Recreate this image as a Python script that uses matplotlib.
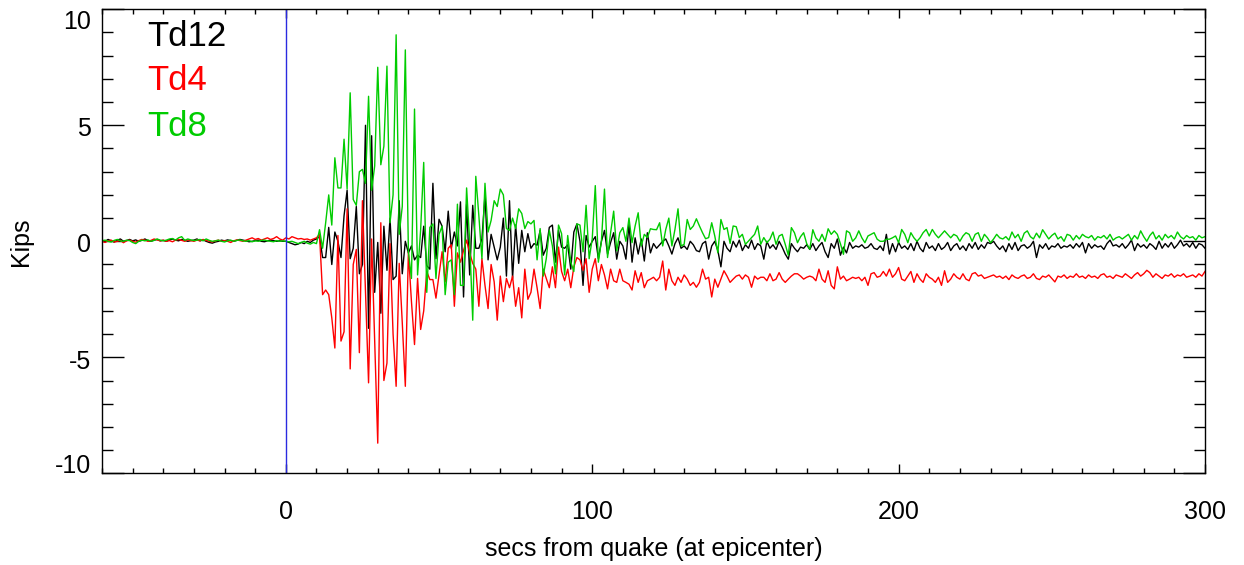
import matplotlib
matplotlib.use("Agg")
import matplotlib.pyplot as plt
import matplotlib.transforms as mtransforms
from matplotlib.ticker import MultipleLocator

plt.rcParams['font.family'] = ['Liberation Sans', 'DejaVu Sans']

secs = list(range(-60, 301))

td12 = [
    0.05,0.0,0.08,0.02,-0.03,0.05,0.1,0.0,0.03,0.08,
    0.02,0.06,0.0,0.04,0.1,0.03,0.0,0.05,0.08,0.02,
    0.04,0.0,0.06,0.1,0.05,0.02,0.08,0.04,0.0,0.03,
    0.05,0.1,0.02,0.06,0.0,-0.05,-0.08,-0.03,0.0,0.05,
    0.02,0.06,0.03,0.0,0.04,0.08,0.05,0.02,-0.02,0.0,
    0.03,0.05,0.0,-0.02,0.02,0.05,0.03,0.0,0.02,0.0,
    0.0,-0.05,-0.1,-0.15,-0.12,-0.05,-0.1,0.0,-0.05,0.05,
    0.1,0.2,-0.7,-0.7,0.6,-1.0,0.4,0.0,-0.7,1.1,
    2.2,-0.75,-0.3,1.5,-1.4,-1.0,5.0,-3.75,4.55,-2.2,
    -0.05,-3.1,0.65,-1.25,1.0,-1.65,-1.5,1.75,-1.4,0.0,
    -0.5,-0.2,-0.8,-0.6,-0.7,0.65,-1.05,-1.2,2.5,-0.75,
    0.95,0.65,-0.45,1.3,-0.3,0.4,-0.2,1.7,-2.4,1.6,
    -1.45,1.55,-0.3,-0.3,0.1,2.0,-0.8,0.3,-0.25,-0.8,
    -0.25,1.0,-1.5,1.75,-1.6,0.7,-0.95,0.47,-0.45,0.33,
    -0.3,-0.1,-0.17,0.47,-0.6,-0.3,0.6,0.7,-0.9,0.47,
    -0.25,-0.3,-0.15,-1.2,0.4,0.75,0.0,-1.9,0.25,-0.25,
    0.0,0.2,-0.75,0.0,0.47,-0.55,-0.05,0.37,-0.77,0.0,
    -0.2,-0.77,0.73,-0.9,0.15,-0.55,0.1,-0.85,0.37,-0.5,
    -0.1,-0.3,-0.15,0.0,0.1,-0.2,-0.55,-0.1,0.15,-0.3,
    -0.2,-0.35,0.0,-0.15,-0.4,-0.45,-0.1,0.0,-0.77,-0.2,
    0.0,-0.4,-1.1,0.0,-0.3,-0.45,0.0,-0.25,0.05,-0.4,
    -0.15,-0.3,0.05,-0.35,-0.1,-0.2,-0.77,0.0,-0.3,-0.15,
    -0.35,0.0,-0.25,-0.55,-0.77,-0.1,-0.3,-0.45,-0.25,-0.3,
    -0.15,-0.35,-0.1,-0.4,-0.2,-0.05,-0.45,-0.7,-0.1,-0.3,
    0.1,-0.6,-0.25,-0.5,-0.05,-0.3,-0.2,-0.25,-0.15,-0.3,
    -0.25,-0.1,-0.3,-0.35,-0.2,-0.4,0.3,-0.55,-0.1,-0.45,
    -0.05,-0.3,-0.2,-0.35,-0.1,-0.4,0.0,-0.3,-0.45,-0.05,
    -0.3,-0.2,-0.4,-0.1,-0.35,-0.25,-0.05,-0.4,-0.2,-0.1,
    -0.35,-0.2,-0.4,-0.1,-0.3,-0.05,-0.35,-0.15,-0.3,-0.05,
    -0.1,0.0,-0.2,-0.35,-0.2,-0.45,-0.1,-0.35,-0.05,-0.4,
    -0.2,-0.15,-0.3,-0.2,0.0,-0.7,-0.15,-0.3,-0.1,-0.35,
    -0.2,-0.25,-0.1,-0.3,-0.2,-0.25,-0.15,-0.3,-0.1,-0.25,
    -0.05,-0.5,-0.1,-0.3,-0.15,-0.25,-0.2,-0.35,-0.1,0.05,
    -0.2,-0.15,-0.25,-0.1,-0.3,-0.15,0.05,-0.4,-0.1,-0.25,
    -0.15,-0.3,-0.1,-0.2,-0.35,0.0,-0.3,-0.1,-0.25,-0.05,
    -0.3,-0.15,0.05,-0.2,-0.1,-0.25,-0.05,-0.3,-0.1,-0.15,
    -0.3,
]

td4 = [
    0.0,-0.05,0.02,0.05,-0.03,0.0,0.04,-0.06,0.02,0.05,
    0.0,-0.04,0.03,0.08,0.05,0.0,0.04,0.1,0.06,0.02,
    0.05,0.0,0.03,-0.02,0.05,0.08,0.04,0.0,0.06,0.03,
    0.0,0.05,0.02,0.08,0.04,0.0,-0.03,0.02,0.05,0.0,
    0.03,0.0,-0.05,0.02,0.06,0.03,0.0,0.05,0.1,0.15,
    0.08,0.12,0.05,0.1,0.15,0.08,0.12,0.2,0.1,0.05,
    0.15,0.1,0.2,0.15,0.1,0.12,0.08,0.1,0.05,0.1,
    0.15,0.3,-2.3,-2.1,-2.3,-3.3,-4.6,0.25,-4.3,-3.9,
    1.4,-5.5,-1.0,-0.35,-4.8,1.75,-2.2,-6.1,0.1,-4.3,
    -8.7,0.8,-6.0,-5.25,-0.1,-4.0,-6.25,-0.95,-3.5,-6.25,
    -0.45,-2.6,-4.45,-1.6,-3.8,-3.0,-1.3,-1.65,-1.65,-2.45,
    -1.45,-0.45,-1.75,-0.3,-0.15,-2.8,-0.5,-0.9,-0.4,0.05,
    -0.5,-0.95,-1.2,-2.8,-0.75,-1.9,-2.9,-1.0,-1.75,-3.4,
    -1.5,-2.6,-1.6,-2.0,-1.5,-2.8,-2.0,-3.3,-1.2,-2.5,
    -2.2,-1.2,-2.0,-2.9,-1.2,-1.6,-2.0,-1.1,-2.0,-0.25,
    -1.3,-1.7,-1.2,-2.0,-1.1,-0.7,-0.8,-1.25,-0.75,-2.2,
    -1.2,-0.75,-1.7,-1.0,-1.45,-2.05,-1.2,-1.7,-1.77,-1.2,
    -1.7,-1.77,-1.85,-2.1,-1.27,-1.77,-1.35,-2.0,-1.7,-1.63,
    -1.55,-1.7,-1.55,-0.85,-2.1,-1.2,-1.7,-1.9,-1.55,-1.77,
    -1.45,-1.63,-1.9,-1.77,-1.98,-1.77,-1.2,-1.63,-1.55,-2.4,
    -1.63,-1.98,-1.63,-1.27,-1.5,-1.77,-1.63,-1.5,-1.45,-1.63,
    -1.45,-1.55,-1.98,-1.5,-1.63,-1.55,-1.55,-1.7,-1.4,-1.7,
    -1.63,-1.35,-1.63,-1.77,-1.63,-1.5,-1.4,-1.4,-1.5,-1.63,
    -1.55,-1.5,-1.55,-1.7,-1.2,-1.63,-1.77,-1.27,-1.9,-2.05,
    -1.1,-1.63,-1.5,-1.7,-1.63,-1.55,-1.6,-1.55,-1.7,-1.55,
    -1.9,-1.4,-1.35,-1.55,-1.5,-1.3,-1.5,-1.2,-1.55,-1.4,
    -1.13,-1.63,-1.7,-1.5,-1.3,-1.77,-1.4,-1.63,-1.77,-1.4,
    -1.55,-1.63,-1.77,-1.55,-1.9,-1.27,-1.77,-1.63,-1.4,-1.55,
    -1.63,-1.4,-1.63,-1.7,-1.4,-1.35,-1.5,-1.45,-1.6,-1.55,
    -1.5,-1.45,-1.55,-1.5,-1.6,-1.5,-1.65,-1.45,-1.55,-1.6,
    -1.5,-1.45,-1.6,-1.55,-1.4,-1.6,-1.65,-1.5,-1.55,-1.45,
    -1.6,-1.75,-1.5,-1.55,-1.45,-1.6,-1.5,-1.55,-1.4,-1.55,
    -1.5,-1.6,-1.45,-1.55,-1.5,-1.6,-1.45,-1.4,-1.55,-1.5,
    -1.6,-1.45,-1.5,-1.55,-1.4,-1.5,-1.6,-1.45,-1.35,-1.5,
    -1.4,-1.25,-1.35,-1.55,-1.4,-1.5,-1.6,-1.45,-1.5,-1.4,
    -1.55,-1.45,-1.5,-1.4,-1.55,-1.5,-1.45,-1.55,-1.4,-1.5,
    -1.3,
]

td8 = [
    0.02,0.05,0.0,-0.03,0.04,0.08,0.02,0.0,0.05,0.03,
    -0.05,-0.1,0.0,0.05,0.02,0.06,0.0,0.04,0.1,0.05,
    0.02,0.05,0.1,0.12,0.05,0.15,0.2,0.04,0.1,0.06,
    0.03,0.05,0.08,0.02,0.1,0.04,0.0,0.02,0.05,0.0,
    -0.03,0.02,0.05,0.0,0.04,0.06,0.02,0.0,0.03,-0.02,
    0.02,0.0,0.04,0.05,0.02,0.0,-0.02,0.03,0.0,0.02,
    0.0,-0.02,0.0,-0.05,-0.1,-0.05,0.0,-0.08,-0.12,-0.05,
    -0.1,0.5,-0.3,0.8,2.0,0.7,3.6,2.3,2.3,4.4,
    2.25,6.4,1.8,1.55,3.0,3.1,2.5,6.25,2.2,3.25,
    7.5,3.3,4.1,7.55,0.8,2.0,8.9,0.3,1.5,8.25,
    -0.45,-1.6,5.7,-1.45,0.5,3.4,-2.2,0.6,0.75,-1.6,
    0.3,0.65,-2.3,-0.9,-0.8,-2.3,1.6,-1.9,-1.9,2.3,
    0.0,-3.4,2.8,1.1,-0.75,2.5,0.4,0.9,1.75,1.5,
    2.25,2.0,0.55,0.47,1.0,0.55,1.4,1.2,0.55,0.85,
    0.75,0.9,-0.8,0.55,-1.5,-0.75,0.47,-0.2,-1.4,0.7,
    0.33,-1.45,0.25,-0.9,-1.3,0.75,0.7,-0.45,1.55,-0.75,
    0.1,2.4,-0.9,0.0,2.25,-0.7,0.37,1.3,-0.41,0.37,
    0.59,0.0,1.0,-0.06,0.66,1.23,-0.2,0.3,0.16,0.54,
    0.51,0.5,0.8,-0.2,0.51,1.0,-0.2,0.51,1.4,-0.2,
    -0.13,0.94,0.51,0.66,0.97,0.66,0.37,0.11,0.16,0.8,
    0.23,-0.49,0.94,0.51,0.59,-0.09,0.66,0.63,0.16,0.3,
    -0.13,0.01,0.16,0.3,0.66,-0.13,0.16,-0.06,0.09,0.4,
    -0.13,0.23,0.3,-0.13,-0.6,0.59,0.37,-0.06,0.2,0.37,
    -0.1,-0.34,0.5,0.15,0.0,0.3,0.0,0.54,0.3,0.45,
    0.3,-0.1,-0.56,0.45,0.37,0.0,0.15,0.45,0.15,-0.06,
    0.23,0.3,0.37,0.09,0.0,0.0,0.09,0.09,0.15,0.23,
    -0.06,0.51,0.3,-0.06,0.37,0.15,0.0,0.15,0.37,0.51,
    0.23,0.51,0.3,0.15,0.3,0.45,0.3,0.15,0.3,0.23,
    0.0,0.23,0.37,0.3,0.0,0.3,0.37,0.0,0.3,0.15,
    -0.06,0.1,0.3,0.15,0.1,0.2,0.05,0.4,0.15,0.3,
    0.0,0.35,0.45,0.2,0.1,0.35,0.15,0.5,0.3,0.1,
    0.25,0.35,0.1,0.2,0.0,0.3,0.25,0.05,0.25,0.1,
    0.3,0.2,0.15,0.25,0.05,0.2,0.15,0.25,0.1,0.3,
    0.05,0.15,0.2,0.1,0.2,0.3,0.05,0.25,0.1,0.45,
    0.2,0.0,0.25,0.4,0.1,0.25,0.05,0.3,0.15,0.25,
    0.1,0.4,0.2,0.1,0.25,0.15,0.2,0.05,0.25,0.15,
    0.2,
]

series_names = ["Td12", "Td4", "Td8"]
series_colors = ["#000000", "#ff0000", "#00cc00"]
series_values = [td12, td4, td8]

y_tick_values = [-10, -5, 0, 5, 10]
y_tick_labels = ["-10", "-5", "0", "5", "10"]
x_tick_values = [0, 100, 200, 300]

for v in series_values:
    if len(v) != len(secs):
        raise ValueError("length mismatch %d vs %d" % (len(v), len(secs)))

W, H = 1244, 565
L, R, T, B = 102, 1205, 9.3, 473.3
fig = plt.figure(figsize=(W/100, H/100), dpi=100)
ax = fig.add_axes([L/W, 1 - B/H, (R-L)/W, (B-T)/H])

for vals, col in zip(series_values, series_colors):
    ax.plot(secs, vals, color=col, lw=1.0)

ax.axvline(0, color="#2a2ae0", lw=1.0)

ax.set_xlim(-60, 300)
ax.set_ylim(-10, 10)
ax.set_xticks(x_tick_values)
ax.set_yticks(y_tick_values)
ax.set_yticklabels([])
ax.xaxis.set_minor_locator(MultipleLocator(10))
ax.yaxis.set_minor_locator(MultipleLocator(1))

px = 72/100  # points per pixel
ax.tick_params(which="both", direction="in", top=True, right=True,
               labelsize=18, width=1.0, color="black")
ax.tick_params(axis="x", which="major", length=9.3*px, pad=27*px)
ax.tick_params(axis="x", which="minor", length=4.6*px)
ax.tick_params(axis="y", which="major", length=22*px)
ax.tick_params(axis="y", which="minor", length=11*px)
for sp in ax.spines.values():
    sp.set_linewidth(1.0)

# y tick labels (IDL style: edge labels pulled inside the frame range)
label_shift_px = {10: -13, 5: -4, 0: -4, -5: -5, -10: 7}
base = ax.get_yaxis_transform()
for val, lab in zip(y_tick_values, y_tick_labels):
    off = mtransforms.ScaledTranslation(-11/100, label_shift_px[val]/100,
                                        fig.dpi_scale_trans)
    ax.text(0, val, lab, transform=base + off, ha="right", va="center",
            fontsize=18, color="black")

ax.set_xlabel("secs from quake (at epicenter)", fontsize=18, labelpad=9)
ax.set_ylabel("Kips", fontsize=18, labelpad=46)

ypos = [0.942, 0.847, 0.748]
for name, col, yp in zip(series_names, series_colors, ypos):
    ax.text(0.041, yp, name, color=col, fontsize=25, transform=ax.transAxes,
            ha="left", va="center")

fig.savefig("out.png", dpi=100)
